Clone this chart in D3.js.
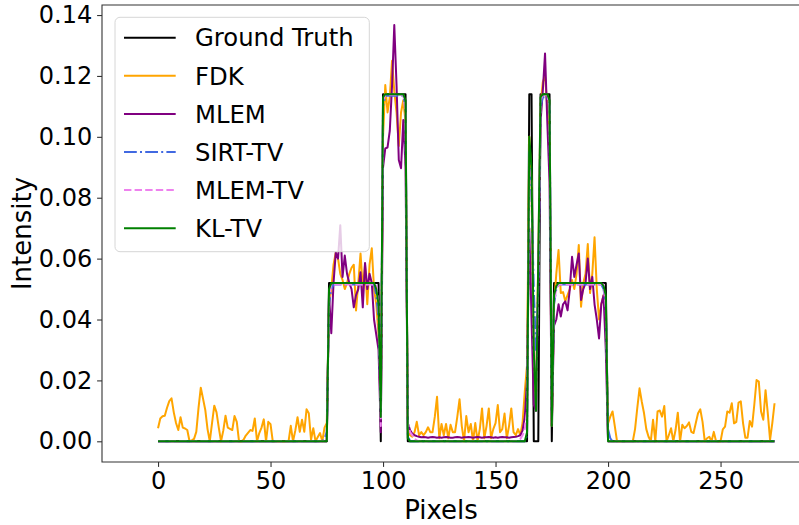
<!DOCTYPE html>
<html>
<head>
<meta charset="utf-8">
<script src="https://cdn.jsdelivr.net/npm/d3@7"></script>
<style>
  body { margin: 0; background: #fff; }
  text { font-family: "DejaVu Sans", sans-serif; fill: #000; }
</style>
</head>
<body>
<div id="chart"></div>
<script>
// pixel index along the profile
const pixels = d3.range(275);

const groundTruth = [
  0,0,0,0,0,0,0,0,0,0,0,0,0,0,0,0,0,0,0,0,0,0,0,0,0,
  0,0,0,0,0,0,0,0,0,0,0,0,0,0,0,0,0,0,0,0,0,0,0,0,0,
  0,0,0,0,0,0,0,0,0,0,0,0,0,0,0,0,0,0,0,0,0,0,0,0,0,
  0,.052,.052,.052,.052, .052,.052,.052,.052,.052, .052,.052,.052,.052,.052, .052,.052,.052,.052,.052, .052,.052,.052,.052,0,
  .114,.114,.114,.114,.114,.114,.114,.114,.114,.114,.114,0,0,0,0,0,0,0,0,0,0,0,0,0,0,
  0,0,0,0,0,0,0,0,0,0,0,0,0,0,0,0,0,0,0,0,0,0,0,0,0,
  0,0,0,0,0,0,0,0,0,0,0,0,0,0,0,.114,.114,0,0,0,.114,.114,.114,.114,.114,
  0,.052,.052,.052,.052, .052,.052,.052,.052,.052, .052,.052,.052,.052,.052, .052,.052,.052,.052,.052, .052,.052,.052,.052,.052,
  0,0,0,0,0,0,0,0,0,0,0,0,0,0,0,0,0,0,0,0,0,0,0,0,0,
  0,0,0,0,0,0,0,0,0,0,0,0,0,0,0,0,0,0,0,0,0,0,0,0,0,
  0,0,0,0,0,0,0,0,0,0,0,0,0,0,0,0,0,0,0,0,0,0,0,0,0
];

const fdk = [
  .0043,.0075,.0082,.0084,.0110,.0132,.0141,.0095,.0060,.0037,.0079,.0045,.0042,.0037,0,.0003,.0008,.0031,.0110,.0176,.0140,.0103,.0040,0,.0060,
  .0117,.0095,.0045,0,.0035,.0084,.0045,.0041,.0037,.0083,.0064,0,0,.0005,.0019,.0028,.0037,.0034,.0075,0,.0027,.0045,.0072,0,.0064,
  .0056,0,0,0,0,0,0,0,0,.0051,0,.0035,.0079,.0031,.0071,.0031,.0105,.0092,.0005,.0043,0,.0014,.0027,0,.0045,
  .0060,.0450,.0500,.0580,.0620,.0600,.0550,.0530,.0500,.0520,.0550,.0570,.0580,.0430,.0520,.0617,.0500,.0580,.0450,.0580,.0634,.0500,.0450,.0350,.0100,
  .1000,.1170,.1080,.1130,.1250,.1150,.1080,.0970,.1080,.1120,.1050,.0040,.0020,.0015,.0030,.0064,.0020,.0030,.0020,.0030,.0046,.0030,.0030,.0080,.0146,
  .0010,.0057,.0020,.0057,.0010,.0054,.0030,.0030,.0080,.0138,.0050,0,.0083,.0030,.0057,0,.0060,0,.0040,.0108,.0010,.0050,.0108,.0010,.0040,
  .0060,.0119,.0030,.0040,.0091,.0010,.0050,.0108,.0030,.0020,.0040,.0020,.0060,.0163,.0250,.1000,.0850,.0200,.0150,.0600,.1100,.1180,.1200,.1100,.1000,
  .0050,.0450,.0550,.0628,.0487,.0490,.0460,.0480,.0500,.0530,.0500,.0550,.0645,.0442,.0520,.0550,.0648,.0487,.0550,.0670,.0500,.0400,.0450,.0480,.0400,
  .0059,.0081,.0098,.0050,0,0,0,0,0,0,0,0,.0040,.0110,.0174,.0130,.0092,.0040,.0015,0,.0071,0,.0098,.0101,.0081,
  .0116,0,.0020,.0043,0,.0037,.0094,0,.0054,.0043,.0050,.0062,.0031,.0027,.0060,.0092,.0105,.0064,0,.0010,.0015,0,.0031,0,0,
  0,.0039,.0048,.0098,.0094,.0125,.0059,.0064,.0127,.0131,.0060,.0012,.0012,.0067,.0048,.0120,.0201,.0196,.0098,.0071,.0168,.0092,.0005,.0060,.0125
];

const mlem = [
  0,0,0,0,0,0,0,0,0,0,0,0,0,0,0,0,0,0,0,0,0,0,0,0,0,
  0,0,0,0,0,0,0,0,0,0,0,0,0,0,0,0,0,0,0,0,0,0,0,0,0,
  0,0,0,0,0,0,0,0,0,0,0,0,0,0,0,0,0,0,0,0,0,0,0,0,0,
  0,.048,.0355,.052,.062,.060,.071,.054,.061,.055,.052,.050,.044,.048,.050,.0555,.044,.0586,.050,.055,.052,.040,.035,.030,.003,
  .090,.0962,.0965,.102,.1168,.1367,.117,.0924,.0897,.1055,.090,.006,.0037,.0025,.0020,.0017,.0015,.0013,.0014,.0013,.0012,.0013,.0014,.0013,.0012,
  .0013,.0012,.0013,.0014,.0013,.0012,.0012,.0013,.0014,.0013,.0012,.0013,.0013,.0014,.0013,.0012,.0013,.0014,.0013,.0012,.0013,.0013,.0014,.0013,.0012,
  .0013,.0012,.0013,.0014,.0013,.0013,.0012,.0013,.0014,.0015,.0017,.0020,.0035,.0080,.0200,.070,.040,.012,.010,.050,.105,.115,.1274,.105,.085,
  .005,.038,.040,.045,.041,.045,.046,.043,.050,.0606,.054,.058,.0617,.0464,.050,.052,.060,.050,.054,.045,.040,.0338,.045,.048,.030,
  0,0,0,0,0,0,0,0,0,0,0,0,0,0,0,0,0,0,0,0,0,0,0,0,0,
  0,0,0,0,0,0,0,0,0,0,0,0,0,0,0,0,0,0,0,0,0,0,0,0,0,
  0,0,0,0,0,0,0,0,0,0,0,0,0,0,0,0,0,0,0,0,0,0,0,0,0
];

const sirtTv = [
  0,0,0,0,0,0,0,0,0,0,0,0,0,0,0,0,0,0,0,0,0,0,0,0,0,
  0,0,0,0,0,0,0,0,0,0,0,0,0,0,0,0,0,0,0,0,0,0,0,0,0,
  0,0,0,0,0,0,0,0,0,0,0,0,0,0,0,0,0,0,0,0,0,0,0,0,.001,
  .003,.045,.050,.0515,.0515,.0515,.0515,.0515,.0515,.0515,.0515,.0515,.0515,.0515,.0515,.0515,.0515,.0515,.0515,.0515,.0515,.0515,.048,.040,.010,
  .110,.1135,.1135,.1135,.1135,.1135,.1135,.1135,.1135,.1135,.110,.002,0,0,0,0,0,0,0,0,0,0,0,0,0,
  0,0,0,0,0,0,0,0,0,0,0,0,0,0,0,0,0,0,0,0,0,0,0,0,0,
  0,0,0,0,0,0,0,0,0,0,0,0,0,0,.002,.095,.080,.050,.030,.050,.110,.113,.113,.113,.110,
  .008,.045,.050,.0515,.0515,.0515,.0515,.0515,.0515,.0515,.0515,.0515,.0515,.0515,.0515,.0515,.0515,.0515,.0515,.0515,.0515,.0515,.0515,.050,.045,
  .004,.001,0,0,0,0,0,0,0,0,0,0,0,0,0,0,0,0,0,0,0,0,0,0,0,
  0,0,0,0,0,0,0,0,0,0,0,0,0,0,0,0,0,0,0,0,0,0,0,0,0,
  0,0,0,0,0,0,0,0,0,0,0,0,0,0,0,0,0,0,0,0,0,0,0,0,0
];

const mlemTv = [
  0,0,0,0,0,0,0,0,0,0,0,0,0,0,0,0,0,0,0,0,0,0,0,0,0,
  0,0,0,0,0,0,0,0,0,0,0,0,0,0,0,0,0,0,0,0,0,0,0,0,0,
  0,0,0,0,0,0,0,0,0,0,0,0,0,0,0,0,0,0,0,0,0,0,0,0,0,
  0,.047,.0515,.0515,.0515,.0515,.0515,.0515,.0515,.0515,.0515,.0515,.0515,.0515,.0515,.0515,.0515,.0515,.0515,.0515,.0515,.0515,.0515,.045,.005,
  .112,.1138,.1138,.1138,.1138,.1138,.1138,.1138,.1138,.1138,.108,.006,.003,.002,.0008,.0003,0,0,0,0,0,0,0,0,0,
  0,0,0,0,0,0,0,0,0,0,0,0,0,0,0,0,0,0,0,0,0,0,0,0,0,
  0,0,0,0,0,0,0,0,0,0,.0003,.0008,.002,.004,.010,.090,.085,.030,.015,.055,.112,.1138,.1138,.1138,.110,
  .006,.046,.050,.0515,.0515,.0515,.0515,.0515,.0515,.0515,.0515,.0515,.0515,.0515,.0515,.0515,.0515,.0515,.0515,.0515,.0515,.0515,.0515,.0515,.044,
  0,0,0,0,0,0,0,0,0,0,0,0,0,0,0,0,0,0,0,0,0,0,0,0,0,
  0,0,0,0,0,0,0,0,0,0,0,0,0,0,0,0,0,0,0,0,0,0,0,0,0,
  0,0,0,0,0,0,0,0,0,0,0,0,0,0,0,0,0,0,0,0,0,0,0,0,0
];

const klTv = [
  0,0,0,0,0,0,0,0,0,0,0,0,0,0,0,0,0,0,0,0,0,0,0,0,0,
  0,0,0,0,0,0,0,0,0,0,0,0,0,0,0,0,0,0,0,0,0,0,0,0,0,
  0,0,0,0,0,0,0,0,0,0,0,0,0,0,0,0,0,0,0,0,0,0,0,0,0,
  0,.050,.052,.052,.052, .052,.052,.052,.052,.052, .052,.052,.052,.052,.052, .052,.052,.052,.052,.052, .052,.052,.050,.045,.008,
  .113,.114,.114,.114,.114,.114,.114,.114,.114,.114,.112,.001,0,0,0,0,0,0,0,0,0,0,0,0,0,
  0,0,0,0,0,0,0,0,0,0,0,0,0,0,0,0,0,0,0,0,0,0,0,0,0,
  0,0,0,0,0,0,0,0,0,0,0,0,0,0,.003,.100,.090,.030,.010,.060,.113,.114,.114,.114,.112,
  .005,.048,.051,.052,.052, .052,.052,.052,.052,.052, .052,.052,.052,.052,.052, .052,.052,.052,.052,.052, .052,.052,.052,.051,.048,
  0,0,0,0,0,0,0,0,0,0,0,0,0,0,0,0,0,0,0,0,0,0,0,0,0,
  0,0,0,0,0,0,0,0,0,0,0,0,0,0,0,0,0,0,0,0,0,0,0,0,0,
  0,0,0,0,0,0,0,0,0,0,0,0,0,0,0,0,0,0,0,0,0,0,0,0,0
];

const xTicks = [0, 50, 100, 150, 200, 250];
const yTicks = [0, 0.02, 0.04, 0.06, 0.08, 0.10, 0.12, 0.14];

// series drawn in this order, last one on top
const series = [
  { name: "Ground Truth", values: groundTruth, color: "black", dash: null },
  { name: "FDK", values: fdk, color: "orange", dash: null },
  { name: "MLEM", values: mlem, color: "purple", dash: null },
  { name: "SIRT-TV", values: sirtTv, color: "royalblue", dash: "12.8,3.2,2,3.2" },
  { name: "MLEM-TV", values: mlemTv, color: "violet", dash: "7.4,3.2" },
  { name: "KL-TV", values: klTv, color: "green", dash: null }
];

// sanity check on the hand-typed arrays
const bad = series.filter(s => s.values.length !== pixels.length);
if (bad.length) throw new Error("length mismatch: " + bad.map(s => s.name + "=" + s.values.length).join(", "));

const width = 799, height = 525;
const plotLeft = 102, plotTop = 5, plotBottom = 462, plotRight = 800;

const svg = d3.select("#chart")
  .append("svg")
  .attr("width", width)
  .attr("height", height);

const x = d3.scaleLinear().domain([-24.9, 285]).range([plotLeft, 799.3]);
const y = d3.scaleLinear().domain([-0.0068, 0.1433]).range([plotBottom, plotTop]);

// axes
const xAxis = svg.append("g")
  .attr("transform", `translate(0,${plotBottom})`)
  .call(d3.axisBottom(x).tickValues(xTicks).tickFormat(d3.format("d")).tickSize(4.9).tickPadding(4.9).tickSizeOuter(0));
const yAxis = svg.append("g")
  .attr("transform", `translate(${plotLeft},0)`)
  .call(d3.axisLeft(y).tickValues(yTicks).tickFormat(d3.format(".2f")).tickSize(4.9).tickPadding(4.9).tickSizeOuter(0));

[xAxis, yAxis].forEach(g => {
  g.select(".domain").remove();
  g.selectAll(".tick line").attr("stroke", "#333").attr("stroke-width", 1.1);
  g.selectAll(".tick text").style("font-size", "24px").attr("fill", "#000");
});

// spines (right one falls outside the picture)
svg.append("path")
  .attr("d", `M${plotRight},${plotTop}H${plotLeft}V${plotBottom}H${plotRight}`)
  .attr("fill", "none")
  .attr("stroke", "#333")
  .attr("stroke-width", 1.1);

// lines
const line = d3.line()
  .x((d, i) => x(pixels[i]))
  .y(d => y(d));

series.forEach(s => {
  svg.append("path")
    .datum(s.values)
    .attr("d", line)
    .attr("fill", "none")
    .attr("stroke", s.color)
    .attr("stroke-width", 2)
    .attr("stroke-dasharray", s.dash)
    .attr("stroke-linejoin", "round");
});

// axis labels
svg.append("text")
  .attr("x", 441)
  .attr("y", 519)
  .attr("text-anchor", "middle")
  .style("font-size", "26px")
  .text("Pixels");

svg.append("text")
  .attr("transform", "translate(31,233.5) rotate(-90)")
  .attr("text-anchor", "middle")
  .style("font-size", "26px")
  .text("Intensity");

// legend
const legend = svg.append("g");
legend.append("rect")
  .attr("x", 115).attr("y", 17.3)
  .attr("width", 254.3).attr("height", 234.4)
  .attr("rx", 5)
  .attr("fill", "white").attr("fill-opacity", 0.8)
  .attr("stroke", "#d6d6d6").attr("stroke-width", 1);

series.forEach((s, i) => {
  const ly = 37.7 + i * 38.1;
  legend.append("line")
    .attr("x1", 124).attr("x2", 175.7)
    .attr("y1", ly).attr("y2", ly)
    .attr("stroke", s.color)
    .attr("stroke-width", 2)
    .attr("stroke-dasharray", s.dash);
  legend.append("text")
    .attr("x", 195)
    .attr("y", ly)
    .attr("dy", "0.36em")
    .style("font-size", "24.3px")
    .text(s.name);
});
</script>
</body>
</html>
